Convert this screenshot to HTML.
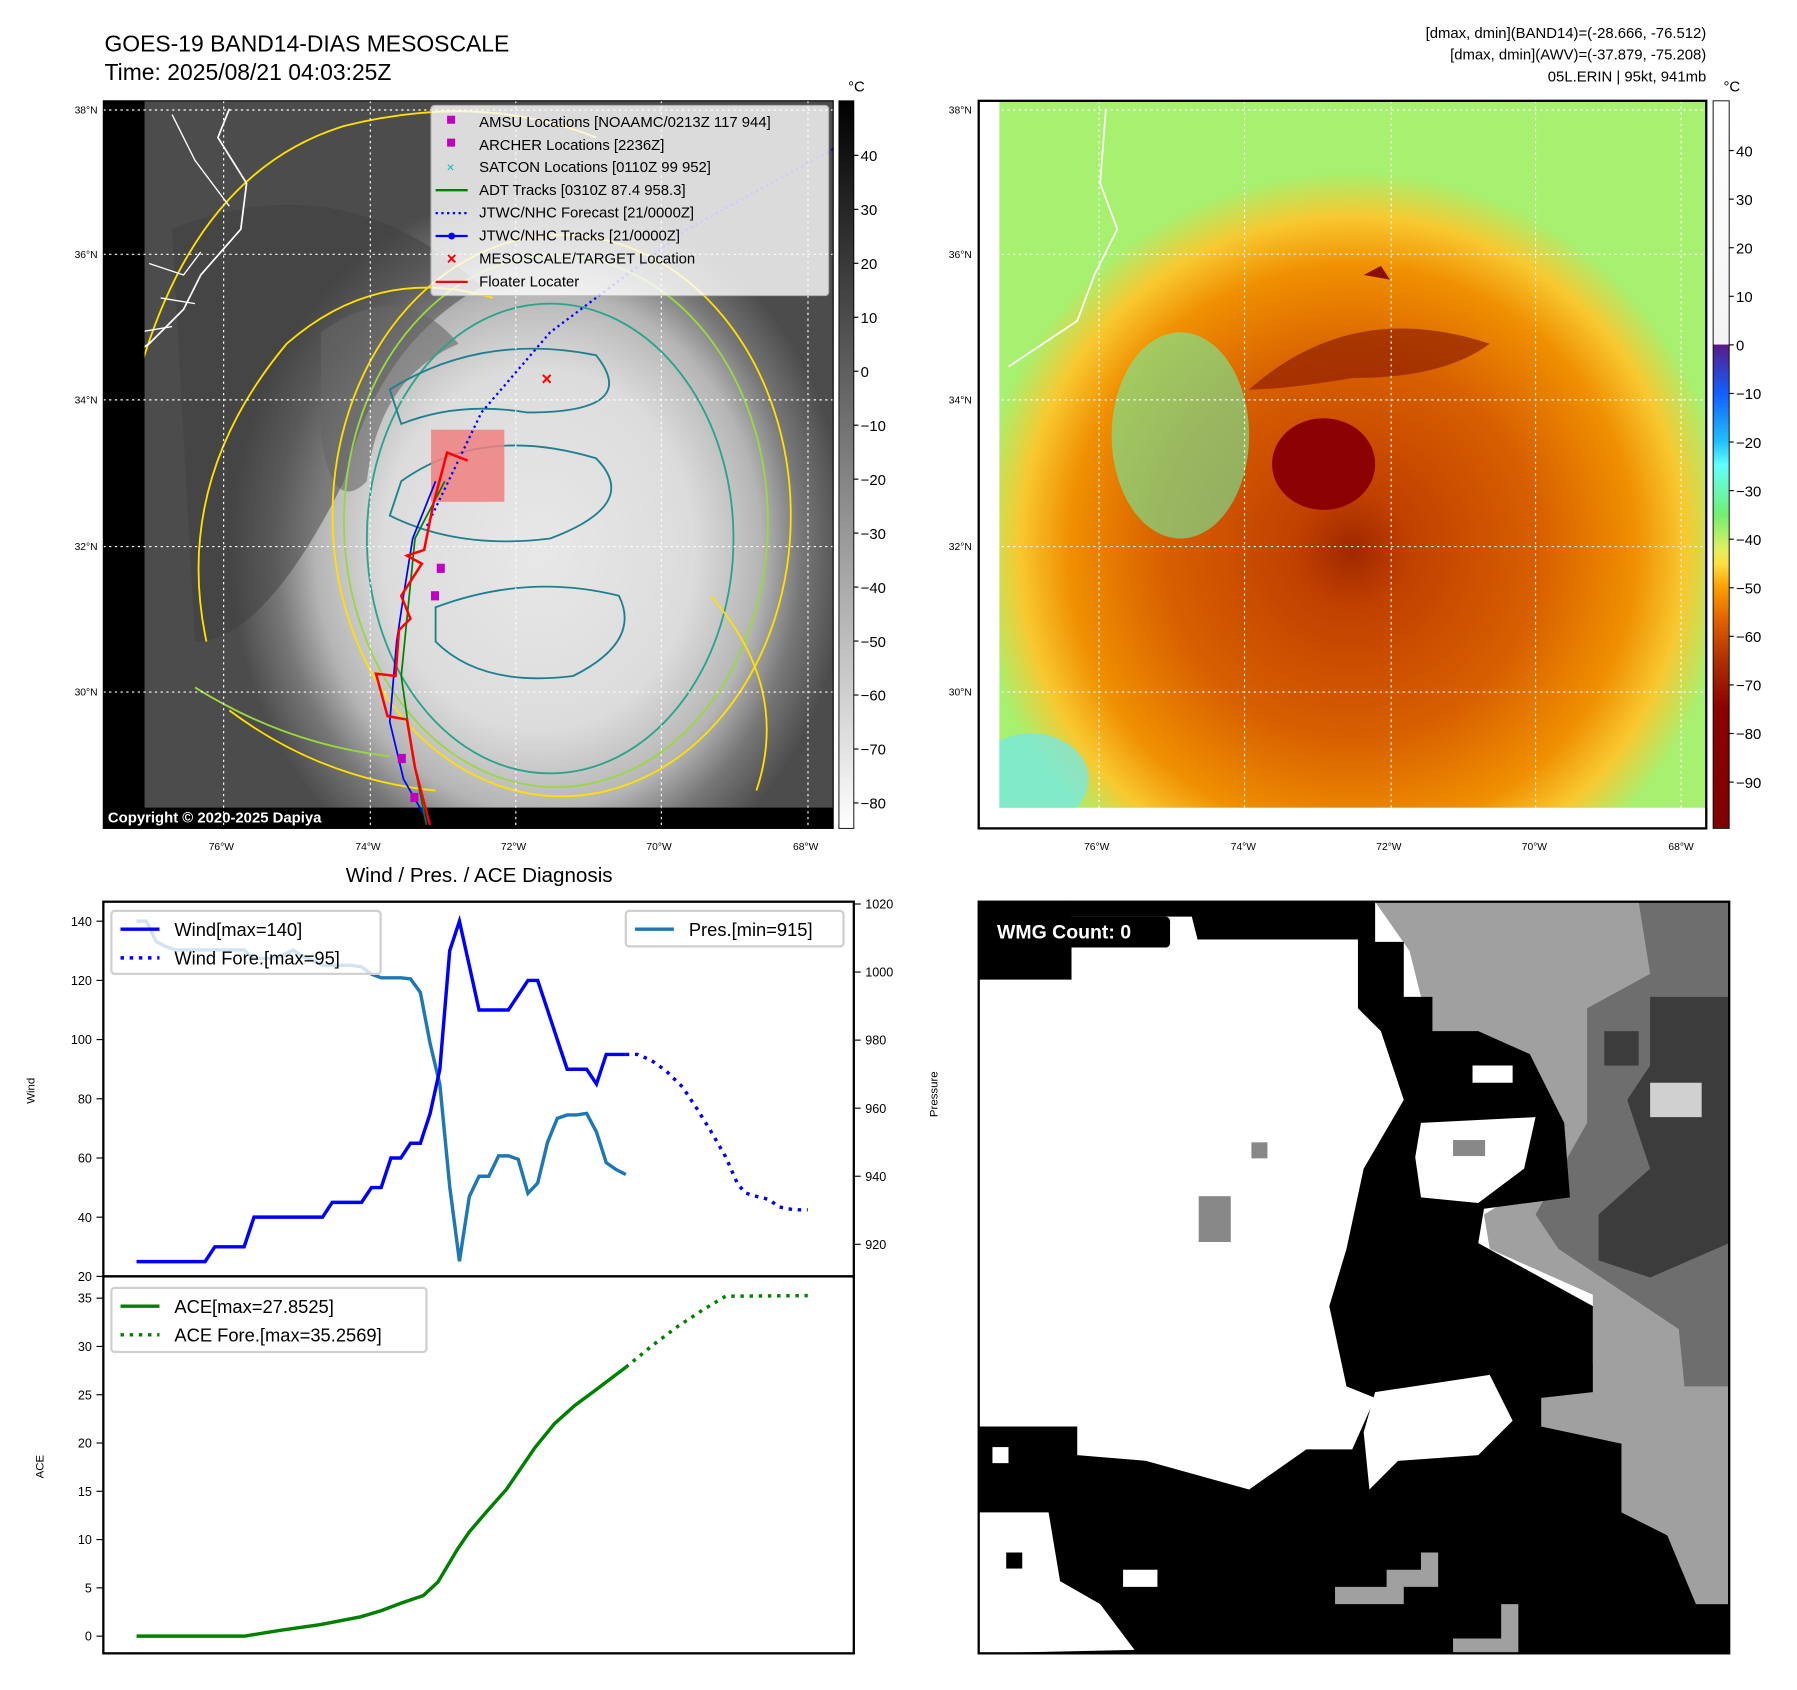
<!DOCTYPE html>
<html><head><meta charset="utf-8"><style>
html,body{margin:0;padding:0;background:#fff;}
svg{display:block;font-family:"Liberation Sans",sans-serif;}
</style></head><body>
<svg id="root" width="1797" height="1690" viewBox="0 0 1568 1475" xmlns="http://www.w3.org/2000/svg">
<defs>
<radialGradient id="ir" cx="470" cy="480" r="300" gradientUnits="userSpaceOnUse" gradientTransform="translate(470 480) scale(0.9 1.05) translate(-470 -480)">
<stop offset="0" stop-color="#e8e8e8"/><stop offset="0.5" stop-color="#dcdcdc"/><stop offset="0.72" stop-color="#b5b5b5"/><stop offset="0.85" stop-color="#777"/><stop offset="1" stop-color="#4c4c4c"/></radialGradient>
<radialGradient id="awv" cx="1180" cy="480" r="330" gradientUnits="userSpaceOnUse">
<stop offset="0" stop-color="#a02800"/><stop offset="0.15" stop-color="#c04000"/><stop offset="0.5" stop-color="#d86000"/><stop offset="0.75" stop-color="#f09000"/><stop offset="0.88" stop-color="#f8c830"/><stop offset="1" stop-color="#a8f070"/></radialGradient>
<linearGradient id="cbGray" x1="0" y1="0" x2="0" y2="1"><stop offset="0" stop-color="#000"/><stop offset="1" stop-color="#fff"/></linearGradient>
<linearGradient id="cbCol" x1="0" y1="0" x2="0" y2="1">
<stop offset="0" stop-color="#fff"/><stop offset="0.334" stop-color="#f4f4f4"/><stop offset="0.336" stop-color="#5a1a8a"/><stop offset="0.402" stop-color="#1060ff"/><stop offset="0.468" stop-color="#20c0ff"/><stop offset="0.501" stop-color="#60ffff"/><stop offset="0.568" stop-color="#70f070"/><stop offset="0.616" stop-color="#e0f060"/><stop offset="0.636" stop-color="#ffe040"/><stop offset="0.668" stop-color="#ffa000"/><stop offset="0.715" stop-color="#e06000"/><stop offset="0.768" stop-color="#b03000"/><stop offset="0.836" stop-color="#8b0000"/><stop offset="1" stop-color="#800000"/></linearGradient>
<clipPath id="clipL"><rect x="126" y="88" width="601" height="617"/></clipPath>
<clipPath id="clipR"><rect x="872" y="88" width="617" height="617"/></clipPath>
</defs>

<text x="91" y="45" font-size="20">GOES-19 BAND14-DIAS MESOSCALE</text>
<text x="91" y="70" font-size="20">Time: 2025/08/21 04:03:25Z</text>
<g font-size="13" text-anchor="end">
<text x="1489" y="33">[dmax, dmin](BAND14)=(-28.666, -76.512)</text>
<text x="1489" y="52">[dmax, dmin](AWV)=(-37.879, -75.208)</text>
<text x="1489" y="71">05L.ERIN | 95kt, 941mb</text>
</g>

<g>
<rect x="90" y="88" width="637" height="635" fill="#000"/>
<g clip-path="url(#clipL)">
<rect x="126" y="88" width="601" height="617" fill="#555"/>
<rect x="126" y="88" width="601" height="617" fill="url(#ir)"/>
<path d="M150 200 Q300 140 420 250 Q330 300 300 420 Q230 560 170 560 Z" fill="#3e3e3e" opacity="0.5"/>
<path d="M280 290 Q350 240 400 300 Q330 330 320 420 Q290 450 280 380 Z" fill="#666" opacity="0.6"/>
<g fill="none" stroke-width="1.6">
<ellipse cx="490" cy="450" rx="200" ry="245" stroke="#ffe000"/>
<ellipse cx="485" cy="455" rx="185" ry="232" stroke="#9ad840"/>
<ellipse cx="480" cy="470" rx="160" ry="205" stroke="#2aa38a"/>
<path d="M340 340 Q420 290 520 310 Q560 360 460 360 Q400 350 350 370 Z" stroke="#1f7f8f"/>
<path d="M350 420 Q420 370 520 400 Q560 440 480 470 Q400 480 340 450 Z" stroke="#1f7f8f"/>
<path d="M380 530 Q460 500 540 520 Q560 560 500 590 Q420 600 380 560 Z" stroke="#1f7f8f"/>
<path d="M120 330 Q170 150 300 110 Q420 80 520 120" stroke="#ffe000"/>
<path d="M180 560 Q150 420 250 300 Q330 230 430 260" stroke="#ffe000"/>
<path d="M200 620 Q280 680 380 690" stroke="#ffe000"/>
<path d="M170 600 Q250 650 340 660" stroke="#9ad840"/>
<path d="M620 520 Q690 600 660 690" stroke="#ffe000"/>
</g>
<path d="M100 320 L130 300 L160 270 L175 240 L210 200 L215 160 L190 120 L200 95" fill="none" stroke="#fff" stroke-width="1.5"/>
<path d="M130 230 L160 240 L175 220 M140 260 L170 265 M120 290 L150 285 M150 100 L170 140 L200 180" fill="none" stroke="#fff" stroke-width="1.2"/>
<rect x="376" y="375" width="64" height="63" fill="#f08080" opacity="0.85"/>
</g>
<rect x="90" y="705" width="637" height="18" fill="#000"/>
<text x="94" y="718" font-size="13" font-weight="bold" fill="#fff">Copyright © 2020-2025 Dapiya</text>
<g stroke="#fff" stroke-width="1" stroke-dasharray="2,3">
<line x1="195" y1="88" x2="195" y2="723"/><line x1="323" y1="88" x2="323" y2="723"/><line x1="450" y1="88" x2="450" y2="723"/><line x1="577" y1="88" x2="577" y2="723"/><line x1="705" y1="88" x2="705" y2="723"/>
<line x1="90" y1="96" x2="727" y2="96"/><line x1="90" y1="222" x2="727" y2="222"/><line x1="90" y1="349" x2="727" y2="349"/><line x1="90" y1="477" x2="727" y2="477"/><line x1="90" y1="604" x2="727" y2="604"/>
</g>
<polyline points="727,130 600,200 480,290 420,360 372,460" fill="none" stroke="#0000ff" stroke-width="2" stroke-dasharray="2,3"/>
<polyline points="380,420 360,470 352,520 346,560 340,630 352,680 375,720" fill="none" stroke="#0000ff" stroke-width="1.5"/>
<polyline points="388,420 362,470 356,530 350,590 360,660 372,720" fill="none" stroke="#008000" stroke-width="1.5"/>
<polyline points="408,402 390,395 378,440 370,480 355,485 368,492 350,520 358,540 348,550 345,590 328,588 338,625 355,628 362,670 375,720" fill="none" stroke="#ff0000" stroke-width="2.2"/>
<g fill="#c000c0"><rect x="381" y="492" width="7" height="8"/><rect x="376" y="516" width="7" height="8"/><rect x="347" y="658" width="7" height="8"/><rect x="358" y="692" width="7" height="8"/></g>
<text x="477" y="336" font-size="16" fill="#f00" font-weight="bold" text-anchor="middle">×</text>
<g>
<rect x="376" y="92" width="347" height="166" rx="3" fill="#fff" opacity="0.8" stroke="#ccc"/>
<g font-size="13">
<rect x="390" y="101" width="7" height="7" fill="#c000c0"/><text x="418" y="111">AMSU Locations [NOAAMC/0213Z 117 944]</text>
<rect x="390" y="121" width="7" height="7" fill="#c000c0"/><text x="418" y="131">ARCHER Locations [2236Z]</text>
<text x="393" y="150" fill="#00c0c0" font-size="12" text-anchor="middle">×</text><text x="418" y="150">SATCON Locations [0110Z 99 952]</text>
<line x1="380" y1="166" x2="408" y2="166" stroke="#008000" stroke-width="2"/><text x="418" y="170">ADT Tracks [0310Z 87.4 958.3]</text>
<line x1="380" y1="186" x2="408" y2="186" stroke="#0000ff" stroke-width="2" stroke-dasharray="2,3"/><text x="418" y="190">JTWC/NHC Forecast [21/0000Z]</text>
<line x1="380" y1="206" x2="408" y2="206" stroke="#0000ff" stroke-width="2"/><circle cx="394" cy="206" r="3" fill="#0000ff"/><text x="418" y="210">JTWC/NHC Tracks [21/0000Z]</text>
<text x="394" y="231" fill="#f00" font-size="15" font-weight="bold" text-anchor="middle">×</text><text x="418" y="230">MESOSCALE/TARGET Location</text>
<line x1="380" y1="246" x2="408" y2="246" stroke="#ff0000" stroke-width="2"/><text x="418" y="250">Floater Locater</text>
</g></g>
<rect x="90" y="88" width="637" height="635" fill="none" stroke="#000" stroke-width="1"/>
</g>
<g>
<rect x="732" y="88" width="13" height="635" fill="url(#cbGray)" stroke="#000" stroke-width="0.8"/>
<text x="740" y="80" font-size="13">°C</text>
<g font-size="13" id="cbLticks"></g>
</g>

<g>
<g clip-path="url(#clipR)">
<rect x="872" y="88" width="617" height="617" fill="#98ec68"/>
<rect x="872" y="88" width="617" height="617" fill="url(#awv)"/>
<ellipse cx="1030" cy="380" rx="60" ry="90" fill="#70f0a0" opacity="0.6"/>
<ellipse cx="900" cy="680" rx="50" ry="40" fill="#70e8f0" opacity="0.7"/>
<path d="M1090 340 Q1180 260 1300 300 Q1260 330 1180 330 Q1120 340 1090 340 Z" fill="#902000" opacity="0.7"/>
<ellipse cx="1155" cy="405" rx="45" ry="40" fill="#8b0000"/>
<path d="M1190 240 l15 -8 l8 12 z" fill="#8b1000"/>
<path d="M880 320 L910 300 L940 280 L955 240 L975 200 L960 160 L965 95" fill="none" stroke="#fff" stroke-width="1.5"/>
</g>
<g stroke="#fff" stroke-width="1" stroke-dasharray="2,3">
<line x1="959" y1="88" x2="959" y2="723"/><line x1="1086" y1="88" x2="1086" y2="723"/><line x1="1214" y1="88" x2="1214" y2="723"/><line x1="1340" y1="88" x2="1340" y2="723"/><line x1="1467" y1="88" x2="1467" y2="723"/>
<line x1="854" y1="96" x2="1489" y2="96"/><line x1="854" y1="222" x2="1489" y2="222"/><line x1="854" y1="349" x2="1489" y2="349"/><line x1="854" y1="477" x2="1489" y2="477"/><line x1="854" y1="604" x2="1489" y2="604"/>
</g>
<rect x="854" y="88" width="635" height="635" fill="none" stroke="#000" stroke-width="2"/>
</g>
<g>
<rect x="1495" y="88" width="14" height="635" fill="url(#cbCol)" stroke="#000" stroke-width="0.8"/>
<text x="1504" y="80" font-size="13">°C</text>
<g font-size="13" id="cbRticks"></g>
</g>
<g font-size="9" id="mapLabels"></g>

<text x="418" y="770" font-size="18" text-anchor="middle">Wind / Pres. / ACE Diagnosis</text>
<g id="chart"></g>

<g>
<rect x="854" y="787" width="655" height="656" fill="#fff"/>
<polygon fill="#a0a0a0" points="1200,787 1509,787 1509,1400 1480,1400 1455,1340 1415,1320 1415,1260 1345,1245 1345,1210 1390,1190 1390,1130 1300,1090 1295,1060 1345,1030 1310,1000 1290,960 1260,920 1230,900 1240,870 1230,830"/>
<polygon fill="#6e6e6e" points="1430,787 1440,850 1385,880 1385,980 1340,1060 1360,1090 1420,1130 1465,1160 1470,1210 1509,1210 1509,787"/>
<polygon fill="#3c3c3c" points="1440,870 1509,870 1509,1085 1440,1115 1395,1100 1395,1060 1440,1020 1420,960 1440,930"/>
<rect x="1400" y="900" width="30" height="30" fill="#3c3c3c"/>
<rect x="1440" y="945" width="45" height="30" fill="#d0d0d0"/>
<polygon fill="#000" points="935,787 1200,787 1200,822 1225,822 1225,870 1250,870 1250,900 1290,900 1335,920 1365,980 1370,1045 1295,1055 1290,1085 1390,1140 1390,1215 1345,1220 1345,1245 1415,1260 1415,1320 1455,1340 1480,1400 1509,1400 1509,1443 854,1443 854,1245 940,1245 940,1270 1000,1275 1090,1300 1140,1265 1180,1265 1200,1220 1175,1210 1160,1140 1175,1090 1190,1020 1225,960 1205,900 1185,880 1185,820 1045,820 1040,800 935,800"/>
<rect x="854" y="787" width="81" height="68" fill="#000"/>
<polygon fill="#fff" points="1200,1215 1300,1200 1320,1240 1290,1270 1220,1275 1195,1300 1190,1250"/>
<polygon fill="#fff" points="1240,980 1340,975 1330,1020 1290,1050 1240,1045 1235,1010"/>
<polygon fill="#fff" points="1285,930 1320,930 1320,945 1285,945"/>
<polygon fill="#fff" points="854,1320 915,1320 925,1380 960,1400 990,1440 854,1443"/>
<polygon fill="#fff" points="980,1370 1010,1370 1010,1385 980,1385"/>
<rect x="1268" y="995" width="28" height="14" fill="#888"/>
<rect x="1092" y="997" width="14" height="14" fill="#888"/>
<rect x="1046" y="1044" width="28" height="40" fill="#888"/>
<polygon fill="#a0a0a0" points="1165,1385 1210,1385 1210,1370 1240,1370 1240,1355 1255,1355 1255,1385 1225,1385 1225,1400 1165,1400"/>
<polygon fill="#a0a0a0" points="1268,1430 1310,1430 1310,1400 1325,1400 1325,1443 1268,1443"/>
<rect x="866" y="1263" width="14" height="14" fill="#fff"/>
<rect x="878" y="1355" width="14" height="14" fill="#000"/>
<rect x="862" y="800" width="159" height="27" rx="4" fill="#000"/>
<text x="870" y="819" font-size="17" font-weight="bold" fill="#fff">WMG Count: 0</text>
<rect x="854" y="787" width="655" height="656" fill="none" stroke="#000" stroke-width="2"/>
</g>

<script>
const obsTime = [0,1,2,3,4,5,6,7,8,9,10,11,12,13,14,15,16,17,18,19,20,21,22,23,24,25,26,27,28,29,30,31,32,33,34,35,36,37,38,39,40,41,42,43,44,45,46,47,48,49,50];
const windObs = [25,25,25,25,25,25,25,25,30,30,30,30,40,40,40,40,40,40,40,40,45,45,45,45,50,50,60,60,65,65,75,90,130,140,125,110,110,110,110,115,120,120,110,100,90,90,90,85,95,95,95];
const presObs = [1015,1015,1009,1007.5,1006.5,1006.5,1006.5,1006.5,1006.5,1006.5,1006.5,1006.5,1004,1004,1004,1005,1006.5,1004.5,1003.5,1002,1002,1002,1002,1001.5,999.4,998.3,998.3,998.3,998,994,979,967,937,915,934,940,940,946,946,945,935,938,950,957,958,958,958.5,953,944,942,940.5];
const foreTime = [50,51.2,52.6,54.1,55.8,57.3,58.7,60.2,61.4,62.2,63.4,64.6,65.7,67.2,68.6];
const windFore = [95,95,93,89.5,84,76.5,69,60.4,51.4,48.2,47,46,43.4,42.5,42.5];
const aceTime = [0,11,14.7,18.8,22.9,24.9,27,29.3,30.8,32.8,34,35.7,37.8,40.7,42.7,44.8,46.8,50];
const aceObs = [0,0,0.6,1.2,2.0,2.6,3.4,4.2,5.6,9,10.8,12.8,15.2,19.5,22,23.9,25.4,27.85];
const aceForeTime = [50,52.6,55.2,57.9,60.2,68.6];
const aceFore = [27.85,30,32,33.8,35.2,35.26];
const windTicks = [20,40,60,80,100,120,140];
const presTicks = [920,940,960,980,1000,1020];
const aceTicks = [0,5,10,15,20,25,30,35];
const irTicks = [40,30,20,10,0,-10,-20,-30,-40,-50,-60,-70,-80];
const awvTicks = [40,30,20,10,0,-10,-20,-30,-40,-50,-60,-70,-80,-90];
const latLabels = ['38°N','36°N','34°N','32°N','30°N'];
const lonLabels = ['76°W','74°W','72°W','70°W','68°W'];

const NS='http://www.w3.org/2000/svg';
function mk(tag, attrs, parent){const e=document.createElementNS(NS,tag);for(const k in attrs)e.setAttribute(k,attrs[k]);parent.appendChild(e);return e;}
const xS = t => 119 + t*(546-119)/50;
const yW = w => 1114 - (w-20)*(1114-804)/120;
const yP = p => 789 + (1020-p)*(1086-789)/100;
const yA = a => 1428 - a*(1428-1133)/35;
const chart=document.getElementById('chart');

mk('rect',{x:90,y:787,width:655,height:656,fill:'#fff',stroke:'none'},chart);
function line(ts,vs,fy,color,dash,nm){
  const pts=ts.map((t,i)=>xS(t).toFixed(1)+','+fy(vs[i]).toFixed(1)).join(' ');
  const el=mk('polyline',{points:pts,fill:'none',stroke:color,'stroke-width':3,'stroke-dasharray':dash||'none'},chart);
  
  
}
line(obsTime,presObs,yP,'#1f77b4',null,'pressure-line');
line(obsTime,windObs,yW,'#0000ff',null,'wind-line');
line(foreTime,windFore,yW,'#0000ff','3,5','wind-forecast-line');
line(aceTime,aceObs,yA,'#008000',null,'ace-line');
line(aceForeTime,aceFore,yA,'#008000','3,5','ace-forecast-line');

function tick(x1,y,len,label,anchor,tx,fs){
  mk('line',{x1:x1,y1:y,x2:x1+len,y2:y,stroke:'#000','stroke-width':1},chart);
  const t=mk('text',{x:tx,y:y+4,'font-size':fs,'text-anchor':anchor},chart);t.textContent=label;
}
windTicks.forEach(v=>tick(84,yW(v),6,v,'end',80,11));
presTicks.forEach(v=>tick(745,yP(v),6,v,'start',755,11));
aceTicks.forEach(v=>tick(84,yA(v),6,v,'end',80,11));
mk('rect',{x:90,y:787,width:655,height:327,fill:'none',stroke:'#000','stroke-width':2},chart);
mk('rect',{x:90,y:1114,width:655,height:329,fill:'none',stroke:'#000','stroke-width':2},chart);
function rot(txt,x,y,nm){const t=mk('text',{x:x,y:y,'font-size':10,'text-anchor':'middle',transform:`rotate(-90 ${x} ${y})`},chart);t.textContent=txt;
 
 }
rot('Wind',30,952,'wind-axis-title');rot('Pressure',818,955,'pressure-axis-title');rot('ACE',38,1280,'ace-axis-title');

function legend(x,y,w,h,items,nm){
  const g=mk('g',{},chart);
  
  
  mk('rect',{x:x,y:y,width:w,height:h,rx:3,fill:'#fff','fill-opacity':0.8,stroke:'#d0d0d0','stroke-width':2},g);
  items.forEach((it,i)=>{const yy=y+16+i*25;
    mk('line',{x1:x+8,y1:yy,x2:x+42,y2:yy,stroke:it[1],'stroke-width':3,'stroke-dasharray':it[2]||'none'},g);
    const t=mk('text',{x:x+55,y:yy+6,'font-size':16},g);t.textContent=it[0];});
}
legend(97,795,235,55,[['Wind[max=140]','#0000ff'],['Wind Fore.[max=95]','#0000ff','3,5']],'wind-legend');
legend(546,795,190,31,[['Pres.[min=915]','#1f77b4']],'pressure-legend');
legend(97,1124,275,56,[['ACE[max=27.8525]','#008000'],['ACE Fore.[max=35.2569]','#008000','3,5']],'ace-legend');

const cl=document.getElementById('cbLticks');
irTicks.forEach(v=>{const y=324-v*4.71;mk('line',{x1:745,y1:y,x2:749,y2:y,stroke:'#000'},cl);const t=mk('text',{x:751,y:y+5},cl);t.textContent=(v<0?'\u2212'+(-v):v);});
const cr=document.getElementById('cbRticks');
awvTicks.forEach(v=>{const y=301-v*4.24;mk('line',{x1:1509,y1:y,x2:1513,y2:y,stroke:'#000'},cr);const t=mk('text',{x:1515,y:y+5},cr);t.textContent=(v<0?'\u2212'+(-v):v);});
const ml=document.getElementById('mapLabels');
const latY=[96,222,349,477,604], lonX=[195,323,450,577,705];
latLabels.forEach((s,i)=>{[85,848].forEach(x=>{const t=mk('text',{x:x,y:latY[i]+3,'text-anchor':'end'},ml);t.textContent=s;});});
lonLabels.forEach((s,i)=>{[0,764].forEach(o=>{const t=mk('text',{x:lonX[i]+o-2,y:742,'text-anchor':'middle'},ml);t.textContent=s;});});
</script>
</svg>
</body></html>
